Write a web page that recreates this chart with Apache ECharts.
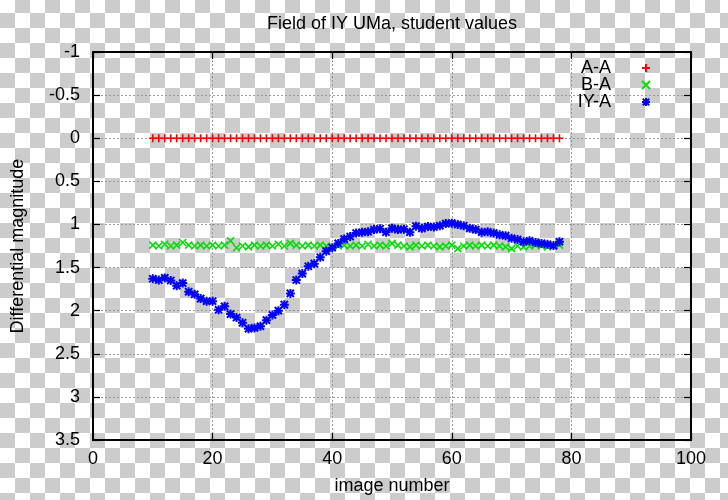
<!DOCTYPE html>
<html><head><meta charset="utf-8">
<script src="https://cdn.jsdelivr.net/npm/echarts@6/dist/echarts.min.js"></script>
<style>
html,body{margin:0;padding:0;width:728px;height:500px;overflow:hidden;
background-color:#fff;
background-image:conic-gradient(#ccc 0 25%, #fff 0 50%, #ccc 0 75%, #fff 0);
background-size:30px 30px;background-position:0 -2px;}
#chart{width:728px;height:500px;}
</style></head><body><div id="chart"></div>
<script>
const imageNumbers = [10,11,12,13,14,15,16,17,18,19,20,21,22,23,24,25,26,27,28,29,30,31,32,33,34,35,36,37,38,39,40,41,42,43,44,45,46,47,48,49,50,51,52,53,54,55,56,57,58,59,60,61,62,63,64,65,66,67,68,69,70,71,72,73,74,75,76,77,78];
const aaValues = [0,0,0,0,0,0,0,0,0,0,0,0,0,0,0,0,0,0,0,0,0,0,0,0,0,0,0,0,0,0,0,0,0,0,0,0,0,0,0,0,0,0,0,0,0,0,0,0,0,0,0,0,0,0,0,0,0,0,0,0,0,0,0,0,0,0,0,0,0];
const baValues = [1.24,1.25,1.23,1.25,1.24,1.21,1.24,1.25,1.24,1.25,1.24,1.25,1.24,1.19,1.27,1.25,1.26,1.24,1.25,1.24,1.25,1.23,1.25,1.22,1.24,1.25,1.24,1.25,1.24,1.25,1.26,1.25,1.24,1.25,1.24,1.25,1.23,1.25,1.24,1.25,1.22,1.24,1.25,1.26,1.24,1.25,1.24,1.25,1.26,1.25,1.24,1.28,1.25,1.24,1.25,1.24,1.25,1.24,1.25,1.26,1.28,1.25,1.26,1.25,1.24,1.25,1.26,1.25,1.24];
const iyValues = [1.63,1.645,1.62,1.65,1.71,1.68,1.78,1.81,1.86,1.89,1.89,1.99,1.95,2.04,2.08,2.14,2.21,2.20,2.18,2.11,2.05,2.00,1.93,1.80,1.645,1.57,1.485,1.455,1.38,1.31,1.27,1.22,1.17,1.14,1.10,1.09,1.085,1.06,1.05,1.09,1.045,1.06,1.055,1.09,1.02,1.045,1.025,1.03,1.015,0.99,0.985,1.00,1.015,1.045,1.06,1.09,1.085,1.10,1.12,1.13,1.16,1.175,1.20,1.19,1.21,1.22,1.23,1.245,1.20];
const seriesNames = ['A-A','B-A','IY-A'];
const seriesColors = ['#ff0000','#00e000','#0000ff'];
const titleText = 'Field of IY UMa, student values';
const xName = 'image number';
const yName = 'Differential magnitude';

const FONT = '"Liberation Sans", Arial, sans-serif';
const PLUS = 'path://M0,5L10,5M5,0L5,10';
const CROSS = 'path://M0,0L10,10M10,0L0,10';
const STAR = 'path://M0,5L10,5M5,0L5,10M1,1L9,9M9,1L1,9';

function mk(name, ys, sym, color, lw, size) {
  return {
    name: name, type: 'scatter',
    data: imageNumbers.map((x, i) => [x, ys[i]]),
    symbol: sym, symbolSize: size, symbolKeepAspect: true,
    itemStyle: {color: 'transparent', borderColor: color, borderWidth: lw, opacity: 1},
    emphasis: {disabled: true}, silent: true
  };
}
const tickStyle = {show: true, inside: true, length: 7, lineStyle: {color: '#000', width: 1.2}};
const lineStyle = {show: true, onZero: false, lineStyle: {color: '#000', width: 2}};
const labelStyle = {color: '#000', fontSize: 18, fontFamily: FONT};
const splitStyle = {show: true, lineStyle: {color: '#9a9a9a', width: 1, type: [2, 2]}};

const chart = echarts.init(document.getElementById('chart'));
chart.setOption({
  animation: false,
  backgroundColor: 'transparent',
  title: {text: titleText, left: 387, top: 10, textAlign: 'center',
    textStyle: {color: '#000', fontSize: 18, fontWeight: 'normal', fontFamily: FONT}},
  grid: {left: 93, right: 37, top: 52, bottom: 56, containLabel: false},
  legend: {
    data: seriesNames, orient: 'vertical', align: 'right',
    right: 72, top: 54, itemWidth: 60, itemHeight: 8, itemGap: -1,
    textStyle: {color: '#000', fontSize: 18, fontFamily: FONT},
    selectedMode: false
  },
  xAxis: [
    {type: 'value', min: 0, max: 100, interval: 20, position: 'bottom',
     name: xName, nameLocation: 'middle', nameGap: 37,
     nameTextStyle: {color: '#000', fontSize: 18, fontFamily: FONT},
     axisLine: lineStyle, axisTick: tickStyle, axisLabel: Object.assign({margin: 10}, labelStyle),
     splitLine: splitStyle},
    {type: 'value', min: 0, max: 100, interval: 20, position: 'top',
     axisLine: lineStyle, axisTick: tickStyle, axisLabel: {show: false}, splitLine: {show: false}}
  ],
  yAxis: [
    {type: 'value', min: -1, max: 3.5, interval: 0.5, inverse: true, position: 'left',
     name: yName, nameLocation: 'middle', nameGap: 66,
     nameTextStyle: {color: '#000', fontSize: 18, fontFamily: FONT},
     axisLine: lineStyle, axisTick: tickStyle, axisLabel: Object.assign({margin: 13}, labelStyle),
     splitLine: splitStyle},
    {type: 'value', min: -1, max: 3.5, interval: 0.5, inverse: true, position: 'right',
     axisLine: lineStyle, axisTick: tickStyle, axisLabel: {show: false}, splitLine: {show: false}}
  ],
  series: [
    mk(seriesNames[0], aaValues, PLUS, seriesColors[0], 1.6, 8),
    mk(seriesNames[1], baValues, CROSS, seriesColors[1], 1.6, 7),
    mk(seriesNames[2], iyValues, STAR, seriesColors[2], 2, 9)
  ]
});
</script>
</body></html>
